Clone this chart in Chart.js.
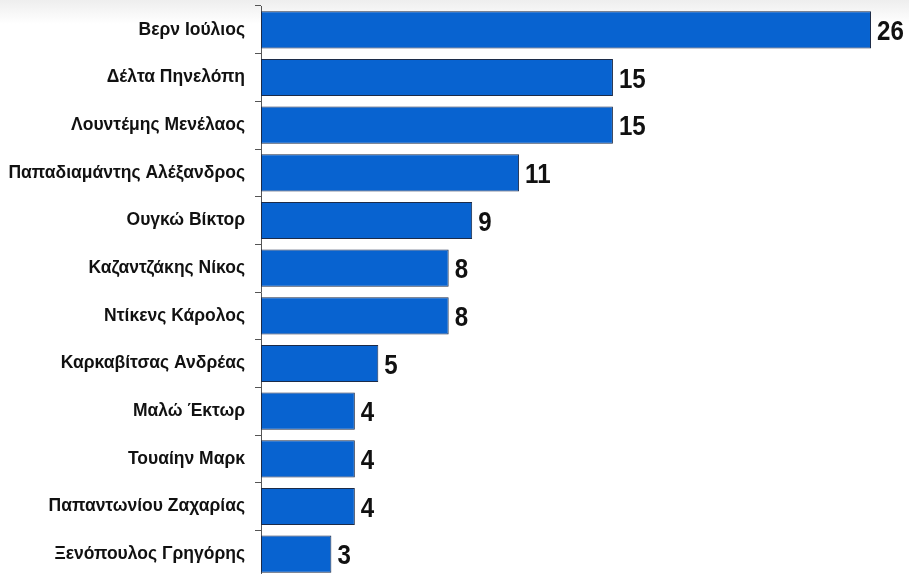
<!DOCTYPE html>
<html>
<head>
<meta charset="utf-8">
<script src="https://cdn.jsdelivr.net/npm/chart.js@4.4.1/dist/chart.umd.min.js"></script>
<style>
  html, body { margin: 0; padding: 0; overflow: hidden; }
  html { background: #ffffff; }
  body { width: 909px; height: 574px; background: linear-gradient(#eeeeee 0px, #ffffff 24px); }
  #wrap { position: relative; width: 909px; height: 580px; }
</style>
</head>
<body>
<div id="wrap"><canvas id="c" width="909" height="580"></canvas></div>
<script>
const categories = [
  "Βερν Ιούλιος",
  "Δέλτα Πηνελόπη",
  "Λουντέμης Μενέλαος",
  "Παπαδιαμάντης Αλέξανδρος",
  "Ουγκώ Βίκτορ",
  "Καζαντζάκης Νίκος",
  "Ντίκενς Κάρολος",
  "Καρκαβίτσας Ανδρέας",
  "Μαλώ Έκτωρ",
  "Τουαίην Μαρκ",
  "Παπαντωνίου Ζαχαρίας",
  "Ξενόπουλος Γρηγόρης"
];
const values = [26, 15, 15, 11, 9, 8, 8, 5, 4, 4, 4, 3];

const valueLabels = {
  id: 'valueLabels',
  afterDatasetsDraw(chart) {
    const ctx = chart.ctx;
    const meta = chart.getDatasetMeta(0);
    const sx = 0.86;
    ctx.save();
    ctx.fillStyle = '#111111';
    ctx.font = 'bold 28px "Liberation Sans", Arial, sans-serif';
    ctx.textAlign = 'left';
    ctx.textBaseline = 'alphabetic';
    meta.data.forEach((bar, i) => {
      ctx.save();
      ctx.translate(bar.x + 6, bar.y + 10);
      ctx.scale(sx, 1);
      ctx.fillText(String(values[i]), 0, 0);
      ctx.restore();
    });
    ctx.restore();
  }
};

new Chart(document.getElementById('c'), {
  type: 'bar',
  data: {
    labels: categories,
    datasets: [{
      data: values,
      backgroundColor: '#0863D0',
      borderColor: '#1c2b48',
      borderWidth: 1,
      borderSkipped: false,
      barPercentage: 0.78,
      categoryPercentage: 1.0
    }]
  },
  options: {
    indexAxis: 'y',
    responsive: false,
    animation: false,
    devicePixelRatio: 1,
    layout: { padding: { top: 6, bottom: 2, left: 0, right: 0 } },
    plugins: { legend: { display: false }, tooltip: { enabled: false } },
    scales: {
      x: {
        display: false,
        min: 0,
        max: 27.62
      },
      y: {
        offset: true,
        afterFit(scale) { scale.width = 261; scale.paddingTop = 0; scale.paddingBottom = 0; },
        border: { display: true, color: '#555555', width: 1 },
        grid: {
          display: true,
          drawOnChartArea: false,
          drawTicks: true,
          tickLength: 6,
          offset: true,
          color: '#555555',
          lineWidth: 1
        },
        ticks: {
          padding: 10,
          color: '#111111',
          font: { family: '"Liberation Sans", Arial, sans-serif', size: 17.5, weight: 'bold' }
        }
      }
    }
  },
  plugins: [valueLabels]
});
</script>
</body>
</html>
